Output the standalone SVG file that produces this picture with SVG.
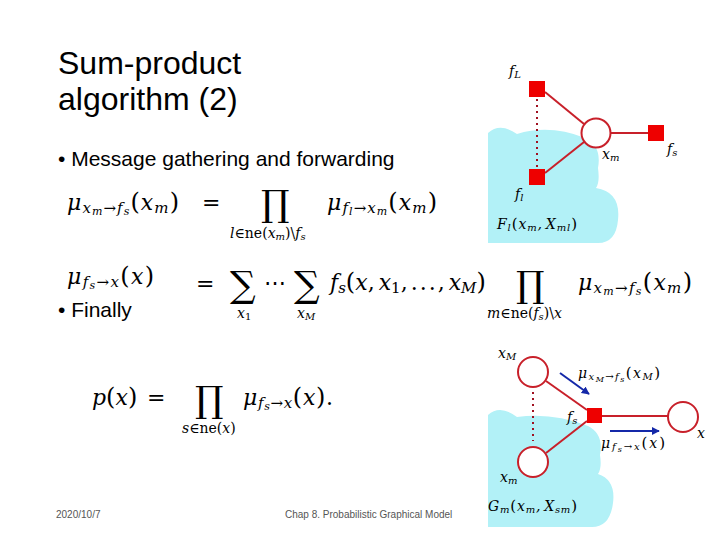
<svg xmlns="http://www.w3.org/2000/svg" width="720" height="540" viewBox="0 0 720 540">
<style>
.t{font-family:"Liberation Sans",Arial,sans-serif;fill:#000}
.m{font-family:"DejaVu Serif","Liberation Serif",serif;fill:#000}
.i{font-style:italic}
.big{font-family:"DejaVu Serif","Liberation Serif",serif;font-size:36px}
.foot{font-family:"Liberation Sans",Arial,sans-serif;font-size:10px;fill:#555}
.edge{stroke:#c8202a;stroke-width:2;fill:none}
.dot{stroke:#a01020;stroke-width:2;stroke-dasharray:2 4;fill:none}
.fac{fill:#ee0000}
.var{fill:#fff;stroke:#c8202a;stroke-width:2}
.cloud{fill:#b2f1f7}
.lab{font-family:"DejaVu Serif","Liberation Serif",serif;font-style:italic;font-size:14px;fill:#000}
.msg{stroke:#1428a8;stroke-width:2;fill:none;marker-end:url(#ah)}
</style>
<defs>
<marker id="ah" viewBox="0 0 10 10" refX="9" refY="5" markerWidth="4" markerHeight="4" orient="auto"><path d="M0,0 L10,5 L0,10 Z" fill="#1428a8"/></marker>
</defs>
<rect width="720" height="540" fill="#fff"/>

<g id="title">
<text class="t" x="58" y="74" font-size="32">Sum-product</text>
<text class="t" x="58" y="110" font-size="32">algorithm (2)</text>
</g>
<g id="bullets">
<text class="t" x="58" y="166" font-size="21">• Message gathering and forwarding</text>
<text class="t" x="58" y="317" font-size="21">• Finally</text>
</g>

<g id="formula1">
<text class="m" x="67" y="210" font-size="22" textLength="112" lengthAdjust="spacing"><tspan class="i">μ</tspan><tspan class="i" font-size="15" dy="3">x</tspan><tspan class="i" font-size="11" dy="2">m</tspan><tspan font-size="15" dy="-2">→</tspan><tspan class="i" font-size="15">f</tspan><tspan class="i" font-size="11" dy="2">s</tspan><tspan font-size="24" dy="-5">(</tspan><tspan class="i">x</tspan><tspan class="i" font-size="15" dy="3">m</tspan><tspan font-size="24" dy="-3">)</tspan></text>
<text class="m" x="202" y="210" font-size="22">=</text>
<text class="big" x="261" y="216">∏</text>
<text class="m" x="230" y="238" font-size="14"><tspan class="i">l</tspan>∈ne(<tspan class="i">x</tspan><tspan class="i" font-size="10" dy="2">m</tspan><tspan dy="-2">)\</tspan><tspan class="i">f</tspan><tspan class="i" font-size="10" dy="2">s</tspan></text>
<text class="m" x="327" y="210" font-size="22" textLength="110" lengthAdjust="spacing"><tspan class="i">μ</tspan><tspan class="i" font-size="15" dy="3">f</tspan><tspan class="i" font-size="11" dy="2">l</tspan><tspan font-size="15" dy="-2">→</tspan><tspan class="i" font-size="15">x</tspan><tspan class="i" font-size="11" dy="2">m</tspan><tspan font-size="24" dy="-5">(</tspan><tspan class="i">x</tspan><tspan class="i" font-size="15" dy="3">m</tspan><tspan font-size="24" dy="-3">)</tspan></text>
</g>

<g id="formula2">
<text class="m" x="67" y="284" font-size="22" textLength="87" lengthAdjust="spacing"><tspan class="i">μ</tspan><tspan class="i" font-size="15" dy="3">f</tspan><tspan class="i" font-size="11" dy="2">s</tspan><tspan font-size="15" dy="-2">→</tspan><tspan class="i" font-size="15">x</tspan><tspan font-size="24" dy="-3">(</tspan><tspan class="i">x</tspan><tspan font-size="24">)</tspan></text>
<text class="m" x="196" y="291" font-size="22">=</text>
<text class="big" x="230" y="297">∑</text>
<text class="m" x="264" y="290" font-size="22">⋯</text>
<text class="big" x="294" y="297">∑</text>
<text class="m" x="330" y="290" font-size="22"><tspan class="i">f</tspan><tspan class="i" font-size="15" dy="3">s</tspan><tspan font-size="24" dy="-3">(</tspan><tspan class="i">x</tspan>,<tspan class="i" dx="4">x</tspan><tspan font-size="15" dy="3">1</tspan><tspan dy="-3">,</tspan><tspan dx="3">.</tspan><tspan dx="2">.</tspan><tspan dx="2">.</tspan><tspan dx="2">,</tspan><tspan class="i" dx="4">x</tspan><tspan class="i" font-size="15" dy="3">M</tspan><tspan font-size="24" dy="-3">)</tspan></text>
<text class="m" x="237" y="318" font-size="14"><tspan class="i">x</tspan><tspan font-size="10" dy="2">1</tspan></text>
<text class="m" x="297" y="318" font-size="14"><tspan class="i">x</tspan><tspan class="i" font-size="10" dy="2">M</tspan></text>
<text class="big" x="516" y="297">∏</text>
<text class="m" x="487" y="318" font-size="14"><tspan class="i">m</tspan>∈ne(<tspan class="i">f</tspan><tspan class="i" font-size="10" dy="2">s</tspan><tspan dy="-2">)\</tspan><tspan class="i">x</tspan></text>
<text class="m" x="578" y="290" font-size="22" textLength="114" lengthAdjust="spacing"><tspan class="i">μ</tspan><tspan class="i" font-size="15" dy="3">x</tspan><tspan class="i" font-size="11" dy="2">m</tspan><tspan font-size="15" dy="-2">→</tspan><tspan class="i" font-size="15">f</tspan><tspan class="i" font-size="11" dy="2">s</tspan><tspan font-size="24" dy="-5">(</tspan><tspan class="i">x</tspan><tspan class="i" font-size="15" dy="3">m</tspan><tspan font-size="24" dy="-3">)</tspan></text>
</g>

<g id="formula3">
<text class="m" x="92" y="405" font-size="22"><tspan class="i">p</tspan><tspan font-size="24">(</tspan><tspan class="i">x</tspan><tspan font-size="24">)</tspan></text>
<text class="m" x="147" y="405" font-size="22">=</text>
<text class="big" x="195" y="412">∏</text>
<text class="m" x="182" y="433" font-size="14"><tspan class="i">s</tspan>∈ne(<tspan class="i">x</tspan>)</text>
<text class="m" x="243" y="405" font-size="22" textLength="90" lengthAdjust="spacing"><tspan class="i">μ</tspan><tspan class="i" font-size="15" dy="3">f</tspan><tspan class="i" font-size="11" dy="2">s</tspan><tspan font-size="15" dy="-2">→</tspan><tspan class="i" font-size="15">x</tspan><tspan font-size="24" dy="-3">(</tspan><tspan class="i">x</tspan><tspan font-size="24">)</tspan>.</text>
</g>

<g id="cloud-top">
<path class="cloud" d="M488,243 L488,133 Q500,122 517,134 Q550,124 585,138 Q602,146 598,168 Q600,182 596,188 Q621,192 618,220 Q616,243 598,243 Z"/>
</g>
<g id="cloud-bottom">
<path class="cloud" d="M488,527 L488,415 Q500,404 517,417 Q552,412 588,426 Q604,434 600,455 Q602,468 598,474 Q616,480 613,503 Q610,527 592,527 Z"/>
</g>

<g id="connectors">
<line class="dot" x1="537" y1="99" x2="537" y2="168"/>
<line class="edge" x1="545" y1="92" x2="584" y2="124"/>
<line class="edge" x1="545" y1="173" x2="584" y2="142"/>
<line class="edge" x1="611" y1="133" x2="648" y2="133"/>
<line class="dot" x1="533" y1="392" x2="533" y2="441"/>
<line class="edge" x1="546" y1="381" x2="587" y2="410"/>
<line class="edge" x1="546" y1="453" x2="587" y2="421"/>
<line class="edge" x1="602" y1="416" x2="668" y2="416"/>
<line class="msg" x1="560" y1="373" x2="589" y2="394"/>
<line class="msg" x1="610" y1="431" x2="659" y2="431"/>
</g>

<g id="node-fL"><rect class="fac" x="529" y="81" width="16" height="16"/><text class="lab" x="509" y="76">f<tspan font-size="10" dy="2">L</tspan></text></g>
<g id="node-fl"><rect class="fac" x="529" y="169" width="16" height="16"/><text class="lab" x="515" y="199">f<tspan font-size="10" dy="2">l</tspan></text></g>
<g id="node-xm"><circle class="var" cx="596" cy="133" r="14.5"/><text class="lab" x="602" y="159">x<tspan font-size="10" dy="2">m</tspan></text></g>
<g id="node-fs"><rect class="fac" x="648" y="125" width="16" height="16"/><text class="lab" x="667" y="154">f<tspan font-size="10" dy="2">s</tspan></text></g>
<g id="label-Fl"><text class="lab" x="497" y="229" textLength="80" lengthAdjust="spacing">F<tspan font-size="10" dy="2">l</tspan><tspan font-size="15" font-style="normal" dy="-2">(</tspan>x<tspan font-size="10" dy="2">m</tspan><tspan dy="-2">,</tspan><tspan dx="3">X</tspan><tspan font-size="10" dy="2">ml</tspan><tspan font-size="15" font-style="normal" dy="-2">)</tspan></text></g>

<g id="node-xM"><circle class="var" cx="533" cy="372" r="15"/><text class="lab" x="498" y="358">x<tspan font-size="10" dy="2">M</tspan></text></g>
<g id="node-xm2"><circle class="var" cx="533" cy="462" r="15"/><text class="lab" x="500" y="482">x<tspan font-size="10" dy="2">m</tspan></text></g>
<g id="node-fs2"><rect class="fac" x="587" y="408" width="15" height="15"/><text class="lab" x="567" y="422">f<tspan font-size="10" dy="2">s</tspan></text></g>
<g id="node-x"><circle class="var" cx="683" cy="417" r="15"/><text class="lab" x="697" y="438">x</text></g>
<g id="label-msgs">
<text class="lab" x="578" y="378" textLength="82" lengthAdjust="spacing">μ<tspan font-size="10" dy="2">x</tspan><tspan font-size="8" dy="2">M</tspan><tspan font-size="10" font-style="normal" dy="-2">→</tspan><tspan font-size="10">f</tspan><tspan font-size="8" dy="2">s</tspan><tspan font-size="15" font-style="normal" dy="-4">(</tspan>x<tspan font-size="10" dy="2">M</tspan><tspan font-size="15" font-style="normal" dy="-2">)</tspan></text>
<text class="lab" x="601" y="448" textLength="64" lengthAdjust="spacing">μ<tspan font-size="10" dy="2">f</tspan><tspan font-size="8" dy="2">s</tspan><tspan font-size="10" font-style="normal" dy="-2">→</tspan><tspan font-size="10">x</tspan><tspan font-size="15" font-style="normal" dy="-2">(</tspan>x<tspan font-size="15" font-style="normal">)</tspan></text>
</g>
<g id="label-Gm"><text class="lab" x="488" y="511" textLength="89" lengthAdjust="spacing">G<tspan font-size="10" dy="2">m</tspan><tspan font-size="15" font-style="normal" dy="-2">(</tspan>x<tspan font-size="10" dy="2">m</tspan><tspan dy="-2">,</tspan><tspan dx="3">X</tspan><tspan font-size="10" dy="2">sm</tspan><tspan font-size="15" font-style="normal" dy="-2">)</tspan></text></g>

<g id="footer">
<text class="foot" x="56" y="518">2020/10/7</text>
<text class="foot" x="285" y="518">Chap 8. Probabilistic Graphical Model</text>
</g>
</svg>
